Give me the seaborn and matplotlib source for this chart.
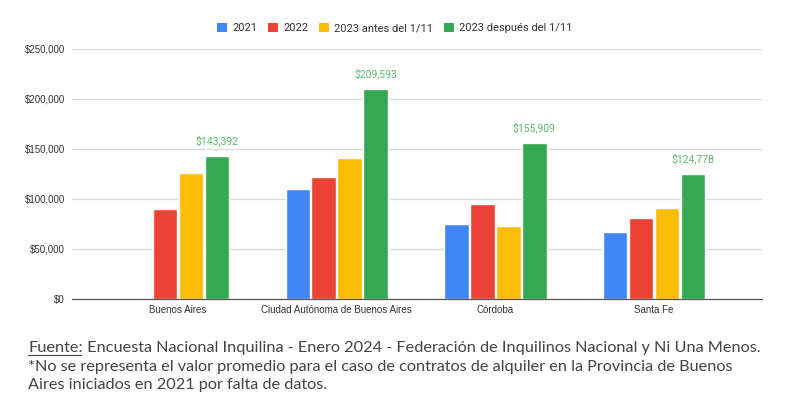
import numpy as np
import pandas as pd
import matplotlib
matplotlib.use("Agg")
import matplotlib.pyplot as plt
import seaborn as sns
from matplotlib.lines import Line2D
from matplotlib.patches import Patch

provincias = ["Buenos Aires", "Ciudad Autónoma de Buenos Aires", "Córdoba", "Santa Fe"]
series = ["2021", "2022", "2023 antes del 1/11", "2023 después del 1/11"]
v2021 = [np.nan, 110000, 75000, 67000]
v2022 = [90000, 122500, 95000, 81000]
v2023_antes = [126000, 141500, 73000, 91500]
v2023_despues = [143392, 209593, 155909, 124778]
colores = ["#4285F4", "#EA4335", "#FBBC04", "#34A853"]

rows = []
for s, vals in zip(series, [v2021, v2022, v2023_antes, v2023_despues]):
    for p, v in zip(provincias, vals):
        rows.append({"Provincia": p, "Serie": s, "Valor": v})
df = pd.DataFrame(rows)

sns.set_style("white")
plt.rcParams["font.family"] = ["Liberation Sans", "DejaVu Sans"]

fig = plt.figure(figsize=(7.9, 4.07), dpi=100)
ax = fig.add_axes([72 / 790, 1 - 299 / 407, 690 / 790, 250 / 407])

sns.barplot(data=df, x="Provincia", y="Valor", hue="Serie", hue_order=series,
            palette=colores, width=0.655, gap=0.06, saturation=1, ax=ax,
            legend=False, errorbar=None)

ax.set_xlim(-0.668, 3.68)
ax.set_ylim(0, 250000)
ax.set_yticks(range(0, 250001, 50000))
ax.set_yticklabels([f"${v:,.0f}" for v in range(0, 250001, 50000)])
ax.grid(axis="y", color="#d9d9d9", linewidth=0.9)
ax.set_axisbelow(True)
for s in ["top", "right", "left"]:
    ax.spines[s].set_visible(False)
ax.spines["bottom"].set_color("#555555")
ax.spines["bottom"].set_linewidth(0.9)
ax.tick_params(axis="both", length=0, labelsize=7, colors="#333333", pad=5)
ax.tick_params(axis="x", pad=4)
ax.set_xlabel("")
ax.set_ylabel("")

# etiquetas solo en la serie verde
ax.bar_label(ax.containers[3], labels=[f"${v:,.0f}" for v in v2023_despues],
             padding=7, fontsize=7.5, color="#5cb86f", family="Roboto")

handles = [Patch(facecolor=c, edgecolor="none") for c in colores]
fig.legend(handles, series, loc="center", bbox_to_anchor=(0.5, 1 - 28 / 407),
           ncol=4, frameon=False, handlelength=0.85, handleheight=0.85,
           handletextpad=0.5, columnspacing=1.0,
           prop={"family": "Roboto", "size": 8}, labelcolor="#333333")

# nota al pie
renderer = fig.canvas.get_renderer()
pie_color = "#444444"
linea1 = " Encuesta Nacional Inquilina - Enero 2024 - Federación de Inquilinos Nacional y Ni Una Menos."
linea2 = "*No se representa el valor promedio para el caso de contratos de alquiler en la Provincia de Buenos"
linea3 = "Aires iniciados en 2021 por falta de datos."
fam = "Lato"
x0 = 28 / 790

# ajustar el tamaño para que la primera línea ocupe el ancho del original
prueba = fig.text(0, 0, "Fuente:" + linea1, fontsize=10, family=fam)
ancho = prueba.get_window_extent(renderer).width
prueba.remove()
fs = 10 * 732 / ancho

y1 = 1 - 352 / 407
t_f = fig.text(x0, y1, "Fuente:", fontsize=fs, family=fam, color=pie_color, va="baseline")
bb = t_f.get_window_extent(renderer)
x1 = bb.x1 / fig.bbox.width
fig.text(x1, y1, linea1, fontsize=fs, family=fam, color=pie_color, va="baseline")
fig.add_artist(Line2D([x0, x1 - 0.002], [y1 - 2.5 / 407] * 2,
                      color=pie_color, linewidth=0.8))
fig.text(x0, 1 - 371 / 407, linea2, fontsize=fs, family=fam, color=pie_color, va="baseline")
fig.text(x0, 1 - 389 / 407, linea3, fontsize=fs, family=fam, color=pie_color, va="baseline")

fig.savefig("out.png", dpi=100, facecolor="white")
